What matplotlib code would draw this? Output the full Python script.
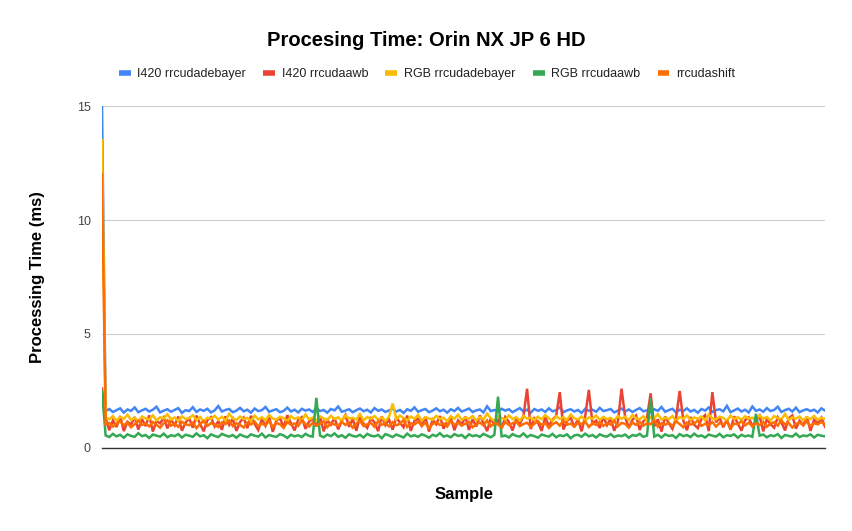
import numpy as np
import matplotlib
matplotlib.use("Agg")
import matplotlib.pyplot as plt
from matplotlib.lines import Line2D

plt.rcParams['font.family'] = ['Liberation Sans', 'DejaVu Sans']

title = "Procesing Time: Orin NX JP 6 HD"
series_names = ["I420 rrcudadebayer", "I420 rrcudaawb", "RGB rrcudadebayer", "RGB rrcudaawb", "rrcudashift"]
colors = ["#4285F4", "#EA4335", "#FBBC04", "#34A853", "#FF6D01"]
y_ticks = [0, 5, 10, 15]

i420_debayer = [15.0, 1.62, 1.71, 1.58, 1.66, 1.74, 1.55, 1.69, 1.63, 1.78, 1.57, 1.65, 1.72, 1.6, 1.68, 1.81, 1.56, 1.64, 1.7, 1.59,
    1.67, 1.75, 1.54, 1.66, 1.62, 1.79, 1.58, 1.69, 1.63, 1.72, 1.56, 1.65, 1.84, 1.6, 1.67, 1.71, 1.57, 1.64, 1.76, 1.61,
    1.68, 1.55, 1.73, 1.62, 1.66, 1.8, 1.59, 1.65, 1.7, 1.57, 1.63, 1.77, 1.6, 1.68, 1.56, 1.72, 1.64, 1.69, 1.58, 1.74,
    1.62, 1.67, 1.55, 1.71, 1.65, 1.82, 1.59, 1.64, 1.7, 1.57, 1.66, 1.73, 1.61, 1.68, 1.56, 1.75, 1.63, 1.69, 1.58, 1.65,
    1.72, 1.6, 1.67, 1.54, 1.7, 1.63, 1.78, 1.59, 1.66, 1.71, 1.57, 1.64, 1.74, 1.61, 1.68, 1.55, 1.7, 1.62, 1.76, 1.6,
    1.66, 1.73, 1.58, 1.65, 1.69, 1.56, 1.83, 1.62, 1.67, 1.59, 1.72, 1.64, 1.7, 1.57, 1.66, 1.75, 1.6, 1.68, 1.55, 1.71,
    1.63, 1.69, 1.58, 1.74, 1.61, 1.66, 1.79, 1.57, 1.65, 1.7, 1.6, 1.67, 1.54, 1.72, 1.63, 1.68, 1.59, 1.76, 1.62, 1.66,
    1.71, 1.56, 1.64, 1.73, 1.6, 1.69, 1.58, 1.67, 1.75, 1.61, 1.65, 1.57, 1.7, 1.63, 1.8, 1.59, 1.66, 1.72, 1.56, 1.68,
    1.62, 1.74, 1.6, 1.67, 1.55, 1.71, 1.64, 1.78, 1.58, 1.66, 1.7, 1.61, 1.85, 1.57, 1.65, 1.73, 1.6, 1.68, 1.56, 1.82,
    1.63, 1.69, 1.59, 1.75, 1.62, 1.67, 1.81, 1.58, 1.66, 1.72, 1.6, 1.77, 1.57, 1.65, 1.7, 1.62, 1.68, 1.56, 1.74, 1.64]

i420_awb = [2.6, 1.32, 0.78, 1.21, 0.92, 1.4, 0.74, 1.15, 1.03, 1.36, 0.81, 1.27, 0.96, 1.43, 0.72, 1.19, 1.08, 1.34, 0.86, 1.25,
    0.99, 1.38, 0.76, 1.12, 1.3, 0.89, 1.42, 1.05, 0.73, 1.23, 1.35, 0.94, 1.17, 0.8, 1.39, 1.01, 1.28, 0.75, 1.14, 1.33,
    0.87, 1.41, 1.06, 0.79, 1.26, 0.97, 1.37, 0.71, 1.2, 1.31, 0.9, 1.44, 1.09, 0.77, 1.24, 1.35, 0.84, 1.16, 1.29, 0.95,
    1.4, 0.73, 1.22, 1.02, 1.33, 0.82, 1.18, 1.45, 0.93, 1.27, 0.76, 1.36, 1.07, 0.88, 1.3, 1.13, 0.74, 1.39, 1.0, 1.25,
    0.8, 1.34, 1.11, 0.91, 1.42, 0.75, 1.19, 1.29, 0.98, 1.37, 0.72, 1.24, 1.04, 1.4, 0.85, 1.16, 1.32, 0.78, 1.21, 1.03,
    1.38, 0.79, 1.26, 0.94, 1.43, 1.1, 0.74, 1.31, 1.01, 1.22, 0.86, 1.36, 1.14, 0.77, 1.28, 1.05, 1.39, 2.6, 0.83, 1.3,
    1.12, 0.75, 1.35, 0.97, 1.24, 1.41, 2.45, 0.81, 1.18, 1.33, 0.92, 1.27, 0.73, 1.4, 2.55, 1.06, 1.2, 0.88, 1.37, 1.0,
    1.29, 0.76, 1.15, 2.6, 1.34, 0.9, 1.23, 1.42, 0.79, 1.17, 1.31, 2.4, 0.95, 1.26, 0.72, 1.38, 1.09, 0.84, 1.3, 2.5,
    1.21, 0.78, 1.36, 1.02, 0.87, 1.28, 1.44, 0.74, 2.45, 1.13, 1.32, 0.91, 1.25, 0.8, 1.39, 1.07, 0.76, 1.22, 1.34, 0.96,
    1.18, 1.41, 0.73, 1.27, 1.04, 0.89, 1.35, 1.12, 0.77, 1.3, 1.43, 0.85, 1.2, 1.0, 1.37, 0.75, 1.24, 1.08, 1.33, 0.93]

rgb_debayer = [13.5, 1.33, 1.26, 1.4, 1.2, 1.36, 1.28, 1.46, 1.23, 1.32, 1.17, 1.38, 1.3, 1.25, 1.43, 1.21, 1.35, 1.29, 1.48, 1.24,
    1.34, 1.19, 1.39, 1.27, 1.31, 1.44, 1.22, 1.36, 1.16, 1.33, 1.28, 1.41, 1.25, 1.37, 1.2, 1.5, 1.3, 1.23, 1.38, 1.27,
    1.32, 1.18, 1.42, 1.26, 1.35, 1.21, 1.45, 1.29, 1.24, 1.37, 1.31, 1.17, 1.39, 1.28, 1.34, 1.22, 1.47, 1.26, 1.33, 1.2,
    1.38, 1.3, 1.23, 1.41, 1.27, 1.35, 1.18, 1.43, 1.29, 1.32, 1.25, 1.49, 1.21, 1.36, 1.28, 1.4, 1.24, 1.34, 1.19, 1.37,
    1.95, 1.26, 1.42, 1.31, 1.22, 1.38, 1.28, 1.45, 1.2, 1.35, 1.3, 1.24, 1.41, 1.27, 1.33, 1.17, 1.39, 1.29, 1.46, 1.23,
    1.34, 1.28, 1.4, 1.21, 1.36, 1.25, 1.51, 1.3, 1.19, 1.38, 1.32, 1.24, 1.43, 1.27, 1.35, 1.2, 1.41, 1.29, 1.33, 1.22,
    1.37, 1.26, 1.44, 1.31, 1.18, 1.39, 1.28, 1.35, 1.23, 1.47, 1.3, 1.25, 1.38, 1.21, 1.34, 1.29, 1.42, 1.24, 1.36, 1.27,
    1.32, 1.19, 1.41, 1.28, 1.37, 1.22, 1.45, 1.3, 1.26, 1.39, 1.2, 1.35, 1.31, 1.48, 1.24, 1.33, 1.27, 1.4, 1.18, 1.36,
    1.29, 1.43, 1.23, 1.34, 1.28, 1.38, 1.21, 1.46, 1.3, 1.25, 1.37, 1.32, 1.19, 1.42, 1.27, 1.35, 1.24, 1.39, 1.29, 1.33,
    1.22, 1.44, 1.28, 1.36, 1.2, 1.4, 1.31, 1.26, 1.49, 1.23, 1.34, 1.29, 1.38, 1.21, 1.35, 1.27, 1.41, 1.24, 1.32, 1.28]

rgb_awb = [2.5, 0.55, 0.48, 0.62, 0.51, 0.58, 0.45, 0.6, 0.53, 0.49, 0.65, 0.52, 0.57, 0.44, 0.59, 0.54, 0.5, 0.63, 0.47, 0.56,
    0.52, 0.61, 0.46, 0.58, 0.54, 0.49, 0.64, 0.51, 0.56, 0.43, 0.6, 0.53, 0.48, 0.62, 0.55, 0.5, 0.57, 0.45, 0.59, 0.52,
    0.47, 0.6, 0.54, 0.5, 0.63, 0.46, 0.57, 0.52, 0.49, 0.61, 0.55, 0.44, 0.58, 0.51, 0.56, 0.48, 0.62, 0.53, 0.5, 2.2,
    0.55, 0.47, 0.59, 0.52, 0.64, 0.49, 0.56, 0.45, 0.6, 0.53, 0.5, 0.58, 0.46, 0.62, 0.54, 0.51, 0.57, 0.43, 0.61, 0.55,
    0.48, 0.59, 0.53, 0.46, 0.63, 0.51, 0.56, 0.49, 0.6, 0.54, 0.45, 0.58, 0.52, 0.65, 0.5, 0.55, 0.47, 0.61, 0.53, 0.57,
    0.44, 0.6, 0.52, 0.56, 0.49, 0.62, 0.54, 0.47, 0.58, 2.25, 0.51, 0.55, 0.46, 0.61, 0.53, 0.5, 0.64, 0.48, 0.57, 0.52,
    0.45, 0.59, 0.54, 0.5, 0.62, 0.47, 0.56, 0.52, 0.6, 0.43, 0.55, 0.58, 0.49, 0.63, 0.51, 0.57, 0.46, 0.6, 0.53, 0.5,
    0.61, 0.48, 0.55, 0.52, 0.59, 0.45, 0.57, 0.53, 0.62, 0.49, 0.54, 2.2, 0.5, 0.58, 0.46, 0.6, 0.53, 0.56, 0.44, 0.61,
    0.52, 0.57, 0.48, 0.63, 0.51, 0.55, 0.46, 0.59, 0.54, 0.5, 0.62, 0.47, 0.56, 0.53, 0.6, 0.45, 0.58, 0.51, 0.55, 0.49,
    1.5, 0.54, 0.59, 0.47, 0.56, 0.52, 0.61, 0.44, 0.57, 0.53, 0.5, 0.63, 0.48, 0.55, 0.52, 0.6, 0.46, 0.58, 0.54, 0.51]

shift = [12.0, 1.03, 1.1, 0.94, 1.06, 1.17, 0.99, 1.12, 0.91, 1.05, 1.2, 1.01, 1.08, 0.95, 1.14, 1.02, 0.89, 1.09, 1.22, 0.98,
    1.07, 0.93, 1.15, 1.04, 1.0, 1.11, 0.87, 1.06, 1.18, 0.97, 1.09, 1.02, 0.92, 1.13, 1.05, 1.21, 0.96, 1.08, 1.01, 0.9,
    1.12, 1.03, 1.16, 0.95, 1.07, 1.0, 1.19, 0.93, 1.1, 1.04, 0.88, 1.14, 1.02, 1.08, 0.97, 1.22, 1.05, 0.94, 1.11, 0.99,
    1.06, 1.17, 0.91, 1.09, 1.03, 0.98, 1.15, 1.01, 1.12, 0.89, 1.07, 1.2, 0.96, 1.04, 1.1, 0.93, 1.18, 1.02, 1.08, 0.95,
    1.13, 1.0, 1.06, 1.23, 0.92, 1.09, 1.03, 1.16, 0.97, 1.11, 0.87, 1.05, 1.14, 1.01, 1.08, 0.94, 1.19, 1.02, 1.1, 0.98,
    1.07, 1.15, 0.91, 1.04, 1.12, 0.99, 1.21, 0.95, 1.09, 1.03, 0.9, 1.14, 1.01, 1.08, 1.17, 0.96, 1.05, 1.11, 0.93, 1.06,
    1.18, 1.0, 1.1, 0.88, 1.04, 1.13, 0.98, 1.22, 1.02, 1.07, 0.94, 1.11, 1.05, 1.16, 0.92, 1.09, 1.01, 1.14, 0.97, 1.08,
    1.03, 1.19, 0.95, 1.1, 1.06, 0.89, 1.12, 1.01, 1.15, 0.98, 1.08, 1.04, 1.23, 0.93, 1.09, 1.02, 1.11, 0.96, 1.17, 1.05,
    0.91, 1.12, 1.03, 1.08, 1.2, 0.97, 1.06, 1.0, 1.14, 0.94, 1.1, 1.02, 1.16, 0.88, 1.07, 1.04, 1.18, 0.99, 1.11, 0.95,
    1.09, 1.01, 1.15, 0.93, 1.07, 1.13, 0.98, 1.21, 1.03, 1.1, 0.9, 1.05, 1.12, 1.0, 1.17, 0.96, 1.08, 1.04, 1.14, 1.02]

all_series = [i420_debayer, i420_awb, rgb_debayer, rgb_awb, shift]

fig = plt.figure(figsize=(8.53, 5.31), dpi=100)
ax = fig.add_axes([102/853, 1-448/531, (825-102)/853, (448-106)/531])

n_max = max(len(s) for s in all_series)
for name, vals, c in zip(series_names, all_series, colors):
    x = np.arange(len(vals))
    ax.plot(x, vals, color=c, lw=1.8, label=name, solid_joinstyle='miter')

ax.set_xlim(0, n_max - 1)
ax.set_ylim(0, 15)
ax.set_yticks(y_ticks)
ax.set_yticklabels([str(t) for t in y_ticks], fontsize=9, color='#444444')
ax.set_xticks([])
ax.grid(axis='y', color='#cccccc', lw=0.8)
ax.set_axisbelow(True)
for s in ['top', 'right', 'left']:
    ax.spines[s].set_visible(False)
ax.spines['bottom'].set_color('#333333')
ax.spines['bottom'].set_linewidth(1.0)
ax.spines['bottom'].set_zorder(5)
ax.tick_params(axis='y', length=0, pad=8)

fig.text(0.5, 1-40/531, title, ha='center', va='center', fontsize=14.5, fontweight='bold', color='#000000')
fig.text(38/853, 1-277/531, "Processing Time (ms)", rotation=90, ha='center', va='center',
         fontsize=12, fontweight='bold', color='#000000')
fig.text(464/853, 1-494/531, "Sample", ha='center', va='center', fontsize=12, fontweight='bold', color='#000000')

hs = [Line2D([0], [0], color=c, lw=4, solid_capstyle='butt') for c in colors]
leg = fig.legend(hs, series_names, loc='center', bbox_to_anchor=(427/853, 1-74/531), ncol=5,
                 frameon=False, fontsize=9, handlelength=0.95, handletextpad=0.55, columnspacing=1.36)
for t in leg.get_texts():
    t.set_color('#222222')

fig.savefig("out.png", dpi=100)
